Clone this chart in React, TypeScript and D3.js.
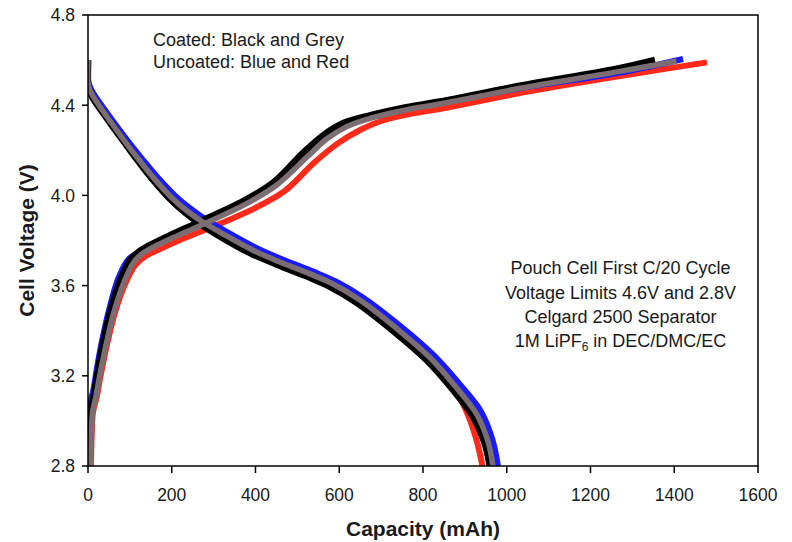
import React from "react";
import * as d3 from "d3";

type P = [number, number];

const xTicks = [0, 200, 400, 600, 800, 1000, 1200, 1400, 1600];
const yTicks = [2.8, 3.2, 3.6, 4.0, 4.4, 4.8];

// Charge curves (capacity mAh, voltage V)
const greyCharge: P[] = [
  [6, 2.8], [8, 2.95], [11, 3.04], [18, 3.1], [28, 3.2], [40, 3.31], [60, 3.47], [85, 3.61],
  [108, 3.7], [128, 3.74], [150, 3.765], [200, 3.81], [275, 3.872], [380, 3.965], [450, 4.045], [523, 4.17],
  [570, 4.25], [618, 4.305], [680, 4.345], [762, 4.38], [840, 4.405], [1032, 4.475], [1270, 4.55], [1405, 4.595],
];
const blackCharge: P[] = [
  [3, 2.8], [5, 2.95], [8, 3.05], [15, 3.12], [24, 3.22], [35, 3.33], [53, 3.48], [77, 3.62],
  [100, 3.71], [122, 3.75], [145, 3.776], [195, 3.822], [270, 3.885], [375, 3.978], [445, 4.06], [515, 4.19],
  [565, 4.27], [610, 4.32], [675, 4.355], [760, 4.39], [840, 4.415], [1030, 4.485], [1260, 4.56], [1354, 4.6],
];
const blueCharge: P[] = [
  [0, 2.85], [2, 3.0], [5, 3.08], [12, 3.13], [22, 3.24], [33, 3.35], [50, 3.49], [72, 3.63],
  [96, 3.715], [122, 3.748], [145, 3.772], [195, 3.818], [272, 3.878], [380, 3.97], [450, 4.05], [520, 4.18],
  [568, 4.26], [615, 4.31], [680, 4.35], [762, 4.385], [840, 4.41], [1032, 4.475], [1270, 4.545], [1421, 4.605],
];
const redCharge: P[] = [
  [7, 2.8], [9, 2.95], [12, 3.04], [20, 3.1], [30, 3.2], [42, 3.31], [62, 3.465], [87, 3.6],
  [112, 3.69], [135, 3.728], [160, 3.752], [210, 3.795], [290, 3.855], [400, 3.945], [470, 4.02], [540, 4.145],
  [600, 4.235], [650, 4.29], [700, 4.33], [780, 4.365], [860, 4.39], [1050, 4.46], [1290, 4.535], [1478, 4.59],
];

// Discharge curves
const greyDischarge: P[] = [
  [0, 4.6], [0, 4.5], [4, 4.47], [13, 4.437], [45, 4.35], [88, 4.24], [125, 4.15], [160, 4.07],
  [200, 3.99], [236, 3.932], [275, 3.881], [315, 3.837], [395, 3.756], [458, 3.705], [530, 3.652],
  [585, 3.607], [650, 3.535], [737, 3.41], [817, 3.28], [880, 3.147], [928, 3.03], [955, 2.91], [967, 2.8],
];
const blackDischarge: P[] = [
  [0, 4.6], [0, 4.49], [4, 4.465], [12, 4.432], [44, 4.346], [87, 4.236], [123, 4.146], [157, 4.066],
  [196, 3.985], [231, 3.926], [269, 3.873], [308, 3.827], [387, 3.745], [450, 3.695], [522, 3.642],
  [577, 3.597], [642, 3.525], [729, 3.4], [809, 3.27], [871, 3.14], [919, 3.022], [947, 2.905], [960, 2.8],
];
const blueDischarge: P[] = [
  [0, 4.6], [0, 4.51], [5, 4.48], [15, 4.446], [48, 4.359], [92, 4.249], [130, 4.16], [166, 4.08],
  [207, 4.0], [244, 3.942], [283, 3.891], [323, 3.847], [403, 3.766], [466, 3.715], [538, 3.662],
  [593, 3.617], [658, 3.545], [746, 3.42], [826, 3.29], [890, 3.157], [939, 3.04], [966, 2.915], [979, 2.8],
];
const redDischarge: P[] = [
  [0, 4.6], [0, 4.5], [4, 4.47], [13, 4.436], [45, 4.349], [88, 4.238], [125, 4.148], [160, 4.068],
  [200, 3.988], [236, 3.93], [275, 3.879], [315, 3.835], [395, 3.753], [458, 3.702], [530, 3.648],
  [585, 3.603], [650, 3.53], [737, 3.404], [812, 3.275], [860, 3.17], [890, 3.095], [915, 2.99], [930, 2.9], [942, 2.8],
];

const legendLines = ["Coated: Black and Grey", "Uncoated: Blue and Red"];

const W = 792;
const H = 542;
const M = { left: 88, right: 758, top: 15, bottom: 466 };

export default function App() {
  const x = d3.scaleLinear().domain([0, 1600]).range([M.left, M.right]);
  const y = d3.scaleLinear().domain([2.8, 4.8]).range([M.bottom, M.top]);
  const line = d3
    .line<P>()
    .x((d) => x(d[0]))
    .y((d) => y(d[1]))
    .curve(d3.curveCatmullRom.alpha(0.5));

  const series: { data: P[]; color: string; w: number }[] = [
    { data: redCharge, color: "#ff2a1a", w: 6 },
    { data: redDischarge, color: "#ff2a1a", w: 6 },
    { data: blueCharge, color: "#1a1aff", w: 6 },
    { data: blueDischarge, color: "#1a1aff", w: 6 },
    { data: blackCharge, color: "#000000", w: 7 },
    { data: blackDischarge, color: "#000000", w: 7 },
    { data: greyCharge, color: "#7a6e72", w: 5.5 },
    { data: greyDischarge, color: "#7a6e72", w: 5.5 },
  ];

  const font = "'Liberation Sans', Arial, sans-serif";
  const textColor = "#1a1a1a";

  return (
    <svg
      width={W}
      height={H}
      style={{ position: "absolute", left: 0, top: 0, background: "#fff" }}
      fontFamily={font}
    >
      <rect x={0} y={0} width={W} height={H} fill="#fff" />
      <defs>
        <clipPath id="plot">
          <rect x={M.left} y={M.top} width={M.right - M.left} height={M.bottom - M.top} />
        </clipPath>
      </defs>
      <g clipPath="url(#plot)">
        {series.map((s, i) => (
          <path
            key={i}
            d={line(s.data) || ""}
            fill="none"
            stroke={s.color}
            strokeWidth={s.w}
            strokeLinejoin="round"
            strokeLinecap="butt"
          />
        ))}
      </g>
      {/* frame */}
      <rect
        x={M.left}
        y={M.top}
        width={M.right - M.left}
        height={M.bottom - M.top}
        fill="none"
        stroke="#000"
        strokeWidth={1.5}
      />
      {/* y ticks */}
      {yTicks.map((t) => (
        <g key={"y" + t}>
          <line x1={M.left - 6} x2={M.left} y1={y(t)} y2={y(t)} stroke="#000" strokeWidth={1.5} />
          <text
            x={75}
            y={y(t)}
            dy="0.36em"
            textAnchor="end"
            fontSize={17.5}
            fill={textColor}
          >
            {t.toFixed(1)}
          </text>
        </g>
      ))}
      {/* x ticks */}
      {xTicks.map((t) => (
        <g key={"x" + t}>
          <line x1={x(t)} x2={x(t)} y1={M.bottom} y2={M.bottom + 7} stroke="#000" strokeWidth={1.5} />
          <text x={x(t)} y={501} textAnchor="middle" fontSize={17.5} fill={textColor}>
            {t}
          </text>
        </g>
      ))}
      {/* axis titles */}
      <text
        x={(M.left + M.right) / 2}
        y={536}
        textAnchor="middle"
        fontSize={21}
        fontWeight="bold"
        fill={textColor}
      >
        Capacity (mAh)
      </text>
      <text
        transform={`translate(34, ${(M.top + M.bottom) / 2}) rotate(-90)`}
        textAnchor="middle"
        fontSize={21}
        fontWeight="bold"
        fill={textColor}
      >
        Cell Voltage (V)
      </text>
      {/* legend note */}
      {legendLines.map((l, i) => (
        <text key={l} x={153} y={46 + i * 22} fontSize={18} fill={textColor}>
          {l}
        </text>
      ))}
      {/* annotation */}
      <g fontSize={18} fill={textColor} textAnchor="middle">
        <text x={620.5} y={274}>Pouch Cell First C/20 Cycle</text>
        <text x={620.5} y={298.5}>Voltage Limits 4.6V and 2.8V</text>
        <text x={620.5} y={323}>Celgard 2500 Separator</text>
        <text x={620.5} y={347}>
          1M LiPF<tspan fontSize={12} dy={4}>6</tspan>
          <tspan dy={-4}> in DEC/DMC/EC</tspan>
        </text>
      </g>
    </svg>
  );
}
